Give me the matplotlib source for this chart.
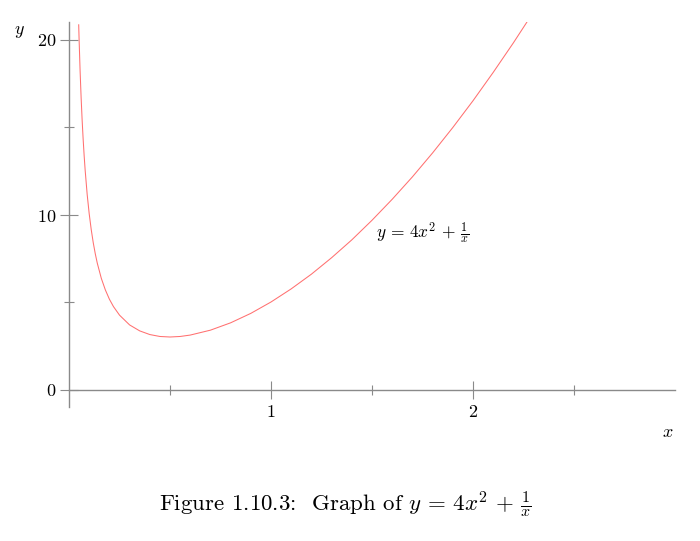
#!/usr/bin/env python3
import matplotlib
matplotlib.use("Agg")
import matplotlib.pyplot as plt

plt.rcParams['mathtext.fontset'] = 'cm'
plt.rcParams['font.family'] = 'DejaVu Serif'

# points on y = 4x^2 + 1/x
xs = [0.048, 0.05, 0.055, 0.06, 0.065, 0.07, 0.075, 0.08, 0.09, 0.1, 0.11,
      0.12, 0.13, 0.14, 0.16, 0.18, 0.2, 0.22, 0.25, 0.3, 0.35, 0.4, 0.45,
      0.5, 0.55, 0.6, 0.7, 0.8, 0.9, 1.0, 1.1, 1.2, 1.3, 1.4, 1.5, 1.6,
      1.7, 1.8, 1.9, 2.0, 2.1, 2.2, 2.27]
ys = [20.84, 20.01, 18.19, 16.68, 15.40, 14.31, 13.36, 12.53, 11.14, 10.04,
      9.14, 8.39, 7.76, 7.22, 6.35, 5.69, 5.16, 4.74, 4.25, 3.69, 3.35, 3.14,
      3.03, 3.00, 3.03, 3.11, 3.39, 3.81, 4.35, 5.00, 5.75, 6.59, 7.53, 8.55,
      9.67, 10.87, 12.15, 13.52, 14.97, 16.5, 18.12, 19.81, 21.05]

x_major = [1, 2]
x_minor = [0.5, 1.5, 2.5]
y_major = [0, 10, 20]
y_minor = [5, 15]

axis_col = '#8a8a8a'

fig = plt.figure(figsize=(7.0, 5.41), dpi=100)
ax = fig.add_axes([69 / 700, 134 / 541, 606 / 700, 385 / 541])
ax.patch.set_alpha(0)

ax.plot(xs, ys, color='#ff7070', lw=0.75)
ax.set_xlim(0, 3)
ax.set_ylim(-1, 21)

for s in ['top', 'right']:
    ax.spines[s].set_visible(False)
ax.spines['left'].set_position(('data', 0))
ax.spines['bottom'].set_position(('data', 0))
for s in ['left', 'bottom']:
    ax.spines[s].set_color(axis_col)
    ax.spines[s].set_linewidth(1.0)

ax.set_xticks(x_major)
ax.set_xticklabels(['$%d$' % v for v in x_major])
ax.set_xticks(x_minor, minor=True)
ax.set_yticks(y_major)
ax.set_yticklabels(['$%d$' % v for v in y_major])
ax.set_yticks(y_minor, minor=True)

ax.tick_params(which='major', direction='inout', length=13.5, width=0.8,
               color=axis_col, labelsize=13, pad=2)
ax.tick_params(which='minor', direction='inout', length=7, width=0.8,
               color=axis_col)
ax.tick_params(axis='x', which='major', pad=3)

ax.text(1.75, 8.9, r'$y\,=\,4x^2\,+\,\frac{1}{x}$', fontsize=12.5,
        ha='center', va='center')
ax.text(2.965, -2.45, '$x$', fontsize=13, ha='center', va='center',
        clip_on=False)
ax.text(-0.243, 20.5, '$y$', fontsize=13, ha='center', va='center',
        clip_on=False)

fig.text(0.494, 1 - 505 / 541,
         r'Figure 1.10.3:  Graph of $y\,=\,4x^2\,+\,\frac{1}{x}$',
         family='cmr10', fontsize=16.5, ha='center', va='center')

fig.savefig('out.png', dpi=100)
